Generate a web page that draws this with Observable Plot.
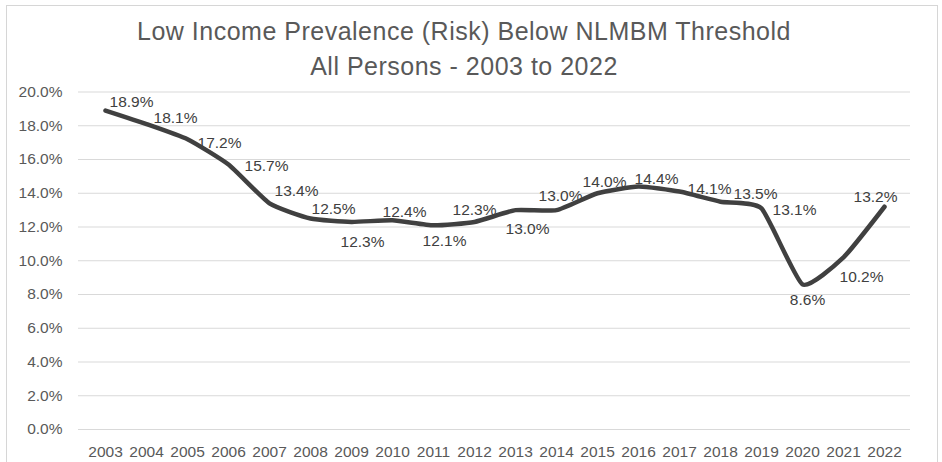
<!DOCTYPE html>
<html>
<head>
<meta charset="utf-8">
<script src="https://cdn.jsdelivr.net/npm/d3@7"></script>
<script src="https://cdn.jsdelivr.net/npm/@observablehq/plot@0.6"></script>
<style>
  html, body { margin: 0; padding: 0; background: #fff; }
  #chart { position: relative; width: 942px; height: 462px; overflow: hidden; font-family: "Liberation Sans", Arial, sans-serif; }
  #frame { position: absolute; left: 6px; top: 5px; width: 932px; height: 470px; border: 1px solid #d6d6d6; box-sizing: border-box; }
  #title { position: absolute; left: 0; top: 14px; width: 928px; text-align: center; font-size: 25px; line-height: 35px; letter-spacing: 0.5px; color: #595959; }
  #plot { position: absolute; left: 0; top: 80px; }
</style>
</head>
<body>
<div id="chart">
  <div id="frame"></div>
  <div id="title">Low Income Prevalence (Risk) Below NLMBM Threshold<br>All Persons - 2003 to 2022</div>
  <div id="plot"></div>
</div>
<script>
// Low income prevalence (%), all persons, by year
const years = ["2003","2004","2005","2006","2007","2008","2009","2010","2011","2012",
               "2013","2014","2015","2016","2017","2018","2019","2020","2021","2022"];
const prevalence = [18.9, 18.1, 17.2, 15.7, 13.4, 12.5, 12.3, 12.4, 12.1, 12.3,
                    13.0, 13.0, 14.0, 14.4, 14.1, 13.5, 13.1, 8.6, 10.2, 13.2];
const yTicks = [0, 2, 4, 6, 8, 10, 12, 14, 16, 18, 20];

// Hand-placed nudges [dx, dy] for each value label so they clear the line
const labelNudge = [
  [26, -9], [29, -6], [32, 4], [38, 1], [27, -12], [23, -10], [11, 20], [12, -8], [11, 16], [0, -12],
  [12, 19], [4, -14], [7, -11], [18, -7], [30, -3], [35, -8], [33, 2], [5, 16], [18, 20], [-9, -10]
];

const rows = years.map((year, i) => ({year, value: prevalence[i], dx: labelNudge[i][0], dy: labelNudge[i][1]}));

const textColor = "#595959";
const font = {fontFamily: "'Liberation Sans', Arial, sans-serif", fontSize: "15.5px"};

const plot = Plot.plot({
  width: 942,
  height: 382,
  marginLeft: 78,
  marginRight: 32,
  marginTop: 11.5,
  marginBottom: 33,
  style: {...font, color: textColor, background: "transparent", overflow: "visible"},
  x: {type: "point", domain: years, padding: 0.5, label: null},
  y: {domain: [0, 20], label: null},
  marks: [
    Plot.ruleY(yTicks, {stroke: "#d9d9d9", strokeWidth: 1}),
    Plot.axisY({ticks: yTicks, tickSize: 0, tickPadding: 16, tickFormat: d => d.toFixed(1) + "%", fill: textColor}),
    Plot.axisX({tickSize: 0, tickPadding: 16, fill: textColor}),
    Plot.line(rows, {x: "year", y: "value", stroke: "#404040", strokeWidth: 4.5, curve: "cardinal", tension: 0.5}),
    ...rows.map(r => Plot.text([r], {
      x: "year", y: "value", text: d => d.value.toFixed(1) + "%",
      dx: r.dx, dy: r.dy, fill: "#404040", fontSize: 15.5
    }))
  ]
});
document.getElementById("plot").appendChild(plot);
</script>
</body>
</html>
